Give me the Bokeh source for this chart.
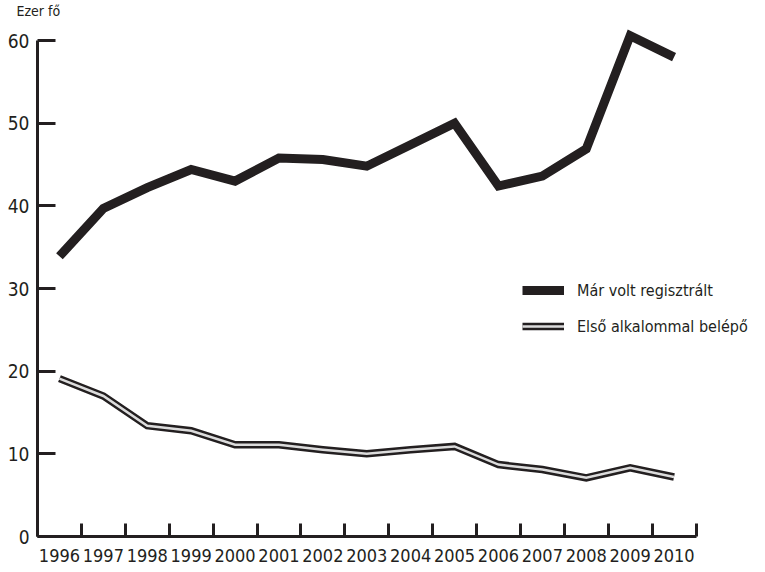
from bokeh.plotting import figure
from bokeh.models import Range1d, FixedTicker, Legend, LegendItem
from bokeh.embed import file_html
from bokeh.resources import INLINE

years = list(range(1996, 2011))
year_labels = [str(y) for y in years]
mar_volt = [33.9, 39.7, 42.2, 44.4, 43.0, 45.8, 45.6, 44.8, 47.4, 50.0, 42.4, 43.6, 46.9, 60.6, 58.0]
elso = [19.1, 17.0, 13.4, 12.8, 11.1, 11.1, 10.5, 10.0, 10.5, 10.9, 8.7, 8.1, 7.1, 8.3, 7.2]
y_ticks = [0, 10, 20, 30, 40, 50, 60]
series_names = ["Már volt regisztrált", "Első alkalommal belépő"]
unit_label = "Ezer fő"

FONT = "DejaVu Sans Condensed"
INK = "#231f20"
LIGHT = "#dcdcdc"

W, H = 754, 567
BL, BR, BT, BB = 37, 5, 18, 31
x_end = 1995.5 + (W - BR - BL) / 43.9

p = figure(width=W, height=H,
           x_range=Range1d(1995.5, x_end), y_range=Range1d(0, 62.67),
           output_backend="svg", toolbar_location=None,
           min_border_left=BL, min_border_right=BR,
           min_border_top=BT, min_border_bottom=BB)
p.grid.visible = False
p.outline_line_color = None
p.background_fill_color = "white"
p.border_fill_color = "white"

p.title.text = unit_label
p.title.align = "left"
p.title.offset = -21
p.title.standoff = 0
p.title.text_font = FONT
p.title.text_font_size = "14px"
p.title.text_font_style = "normal"
p.title.text_color = INK

r1 = p.line(years, mar_volt, line_width=9, line_color=INK, line_join="miter")
r2o = p.line(years, elso, line_width=7.5, line_color=INK, line_join="miter")
r2i = p.line(years, elso, line_width=2.5, line_color=LIGHT, line_join="miter")

xa = p.xaxis[0]
xa.ticker = FixedTicker(ticks=years, minor_ticks=[y - 0.5 for y in years] + [2010.5])
xa.major_label_overrides = {y: s for y, s in zip(years, year_labels)}
xa.bounds = (1995.5, 2010.5)
xa.major_tick_line_color = None
xa.minor_tick_in = 13
xa.minor_tick_out = 0
xa.minor_tick_line_width = 3
xa.minor_tick_line_color = INK
xa.axis_line_width = 3
xa.axis_line_color = INK
xa.major_label_text_font = FONT
xa.major_label_text_font_size = "18px"
xa.major_label_text_color = INK
xa.major_label_standoff = 6

ya = p.yaxis[0]
ya.ticker = FixedTicker(ticks=y_ticks)
ya.bounds = (0, 60)
ya.major_tick_in = 18
ya.major_tick_out = 0
ya.major_tick_line_width = 3
ya.major_tick_line_color = INK
ya.minor_tick_line_color = None
ya.axis_line_width = 3
ya.axis_line_color = INK
ya.major_label_text_font = FONT
ya.major_label_text_font_size = "19px"
ya.major_label_text_color = INK
ya.major_label_standoff = 8

legend = Legend(items=[LegendItem(label=series_names[0], renderers=[r1]),
                       LegendItem(label=series_names[1], renderers=[r2o, r2i])],
                location=(485, 200), padding=0, margin=0, spacing=16,
                glyph_width=42, glyph_height=20, label_standoff=13,
                label_text_font=FONT, label_text_font_size="16px",
                label_text_color=INK, border_line_color=None,
                background_fill_alpha=0)
p.add_layout(legend)

open("out.html", "w").write(file_html(p, INLINE))
